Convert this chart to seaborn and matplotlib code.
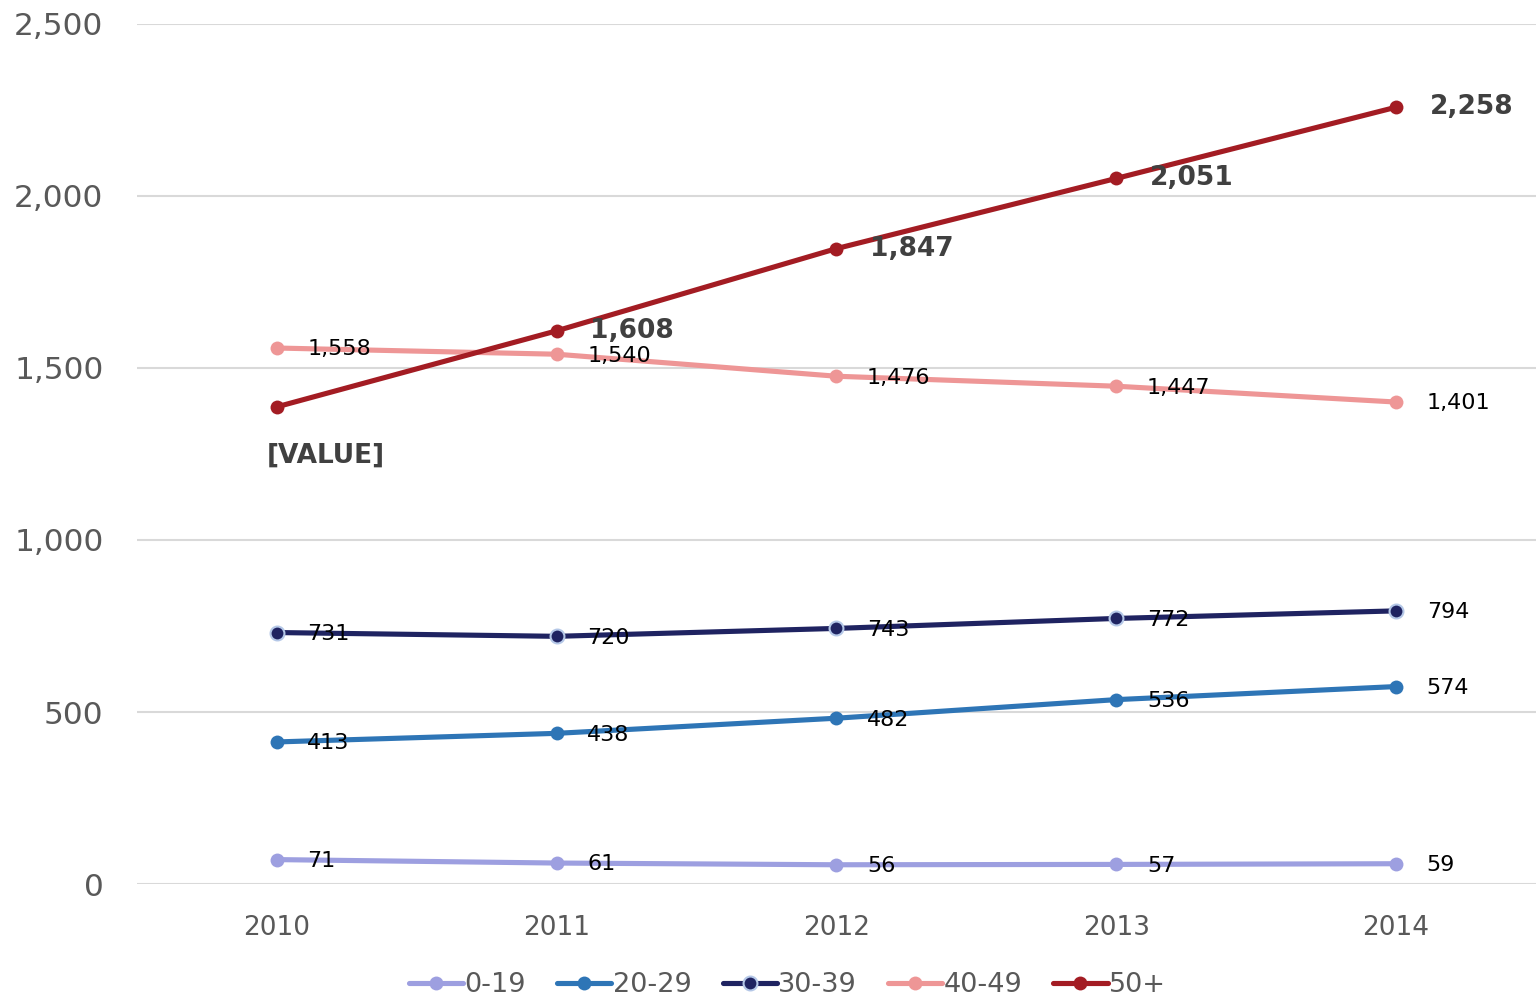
import matplotlib
matplotlib.use("Agg")
import matplotlib.pyplot as plt
import seaborn as sns
import pandas as pd

years = ["2010", "2011", "2012", "2013", "2014"]
groups = ["0-19", "20-29", "30-39", "40-49", "50+"]
v_0_19 = [71, 61, 56, 57, 59]
v_20_29 = [413, 438, 482, 536, 574]
v_30_39 = [731, 720, 743, 772, 794]
v_40_49 = [1558, 1540, 1476, 1447, 1401]
v_50_plus = [1387, 1608, 1847, 2051, 2258]
y_ticks = [0, 500, 1000, 1500, 2000, 2500]

series = [v_0_19, v_20_29, v_30_39, v_40_49, v_50_plus]
colors = ["#9d9fe0", "#2e75b6", "#1f2361", "#ee9696", "#a31c23"]

rows = []
for g, vals in zip(groups, series):
    for i, (yr, v) in enumerate(zip(years, vals)):
        rows.append({"year": yr, "idx": i, "group": g, "value": v})
df = pd.DataFrame(rows)

sns.set_theme(style="white")
plt.rcParams["font.family"] = ["DejaVu Sans"]

fig = plt.figure(figsize=(15.38, 9.98), dpi=100)
ax = fig.add_axes([0.089, 0.1142, 0.9097, 0.8618])

sns.lineplot(data=df, x="idx", y="value", hue="group", hue_order=groups,
             palette=colors, marker="o", markersize=10, linewidth=3.7,
             markeredgewidth=0, ax=ax, legend=False, zorder=3)

# lighter rim around the 30-39 markers
ax.plot(range(len(years)), v_30_39, linestyle="none", marker="o",
        markersize=10, markerfacecolor=colors[2], markeredgecolor="#b4c7e7",
        markeredgewidth=1.5, zorder=4)

ax.set_xlim(-0.5, 4.5)
ax.set_ylim(0, 2500)
ax.set_yticks(y_ticks)
ax.set_yticklabels([f"{t:,}" for t in y_ticks])
ax.set_xticks(range(len(years)))
ax.set_xticklabels(years)
ax.tick_params(axis="y", labelsize=22.5, colors="#595959", length=0, pad=24)
ax.tick_params(axis="x", labelsize=19, colors="#595959", length=0, pad=22)
ax.set_xlabel("")
ax.set_ylabel("")
ax.grid(axis="y", color="#d9d9d9", linewidth=1.5)
ax.set_axisbelow(True)
for s in ax.spines.values():
    s.set_visible(False)

# value labels
for g, vals in zip(groups[:4], series[:4]):
    for i, v in enumerate(vals):
        ax.annotate(f"{v:,}", (i, v), xytext=(22, -1), textcoords="offset points",
                    ha="left", va="center", fontsize=16, color="black", zorder=5)
for i, v in enumerate(v_50_plus):
    if i == 0:
        ax.annotate("[VALUE]", (i, v), xytext=(-7, -35), textcoords="offset points",
                    ha="left", va="center", fontsize=19, fontweight="bold",
                    color="#404040", zorder=5)
    else:
        ax.annotate(f"{v:,}", (i, v), xytext=(24, 0), textcoords="offset points",
                    ha="left", va="center", fontsize=19, fontweight="bold",
                    color="#404040", zorder=5)

handles = [plt.Line2D([], [], color=c, linewidth=3.7, marker="o", markersize=10,
                      markeredgewidth=0) for c in colors]
handles[2].set_markeredgecolor("#b4c7e7")
handles[2].set_markeredgewidth(1.5)
fig.legend(handles, groups, loc="center", bbox_to_anchor=(0.512, 0.013),
           ncol=5, frameon=False, fontsize=19.5, labelcolor="#595959",
           handlelength=2.0, handletextpad=0.05, columnspacing=1.15)

fig.savefig("out.png", dpi=100)
